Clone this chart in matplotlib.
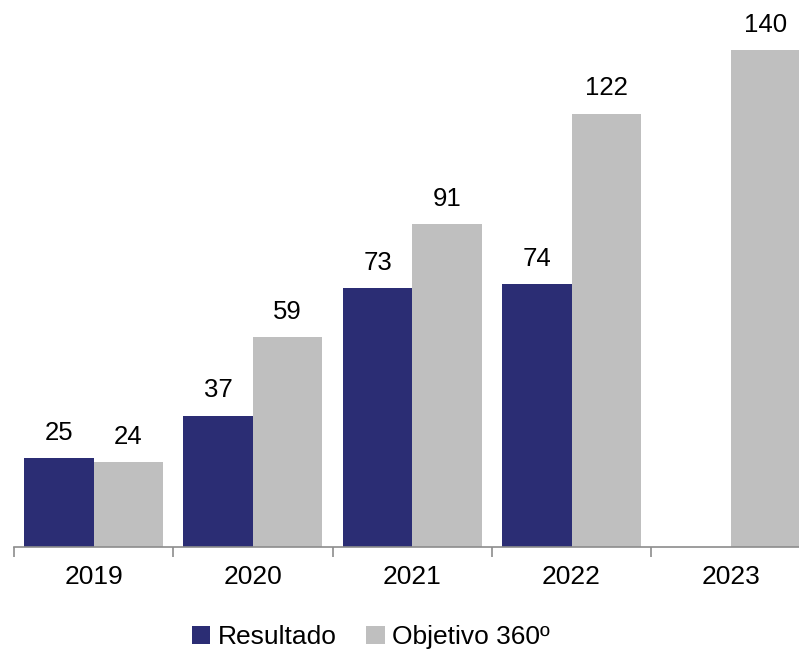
import numpy as np
import matplotlib.pyplot as plt

plt.rcParams['font.family'] = ['Liberation Sans', 'DejaVu Sans']

years = ['2019', '2020', '2021', '2022', '2023']
resultado = [25, 37, 73, 74, None]
objetivo = [24, 59, 91, 122, 140]

navy = '#2B2D74'
grey = '#BFBFBF'

fig = plt.figure(figsize=(7.99, 6.5), dpi=100)
# axes runs a bit past the right edge, as in the original
ax = fig.add_axes([14 / 799, 103 / 650, 796.5 / 799, 547 / 650])

x = np.arange(len(years))
w = 0.436
res_x = [xi - w / 2 for xi, v in zip(x, resultado) if v is not None]
res_v = [v for v in resultado if v is not None]
b1 = ax.bar(res_x, res_v, width=w, color=navy, label='Resultado')
b2 = ax.bar(x + w / 2, objetivo, width=w, color=grey, label='Objetivo 360º')

for bx, v in zip(res_x, res_v):
    ax.annotate(str(v), (bx, v), xytext=(0, 9.5), textcoords='offset points',
                ha='center', va='bottom', fontsize=18.5)
for bx, v in zip(x + w / 2, objetivo):
    ax.annotate(str(v), (bx, v), xytext=(0, 9.5), textcoords='offset points',
                ha='center', va='bottom', fontsize=18.5)

ax.set_xlim(-0.5, 4.5)
ax.set_ylim(0, 154)
ax.set_yticks([])
for s in ['left', 'right', 'top']:
    ax.spines[s].set_visible(False)
ax.spines['bottom'].set_color('#8C8C8C')
ax.spines['bottom'].set_linewidth(1.2)

ax.set_xticks(np.arange(-0.5, 5, 1))
ax.set_xticklabels([])
ax.tick_params(axis='x', which='major', length=7, color='#8C8C8C', width=1.2)
ax.set_xticks(x, minor=True)
ax.set_xticklabels(years, minor=True, fontsize=19)
ax.tick_params(axis='x', which='minor', length=0, pad=13)

fig.legend(handles=[b1, b2], loc='center', bbox_to_anchor=(371 / 799, 1 - 637 / 650),
           ncol=2, frameon=False, fontsize=19, handlelength=0.7, handleheight=0.7,
           handletextpad=0.3, columnspacing=1.1)

fig.savefig('out.png', dpi=100)
